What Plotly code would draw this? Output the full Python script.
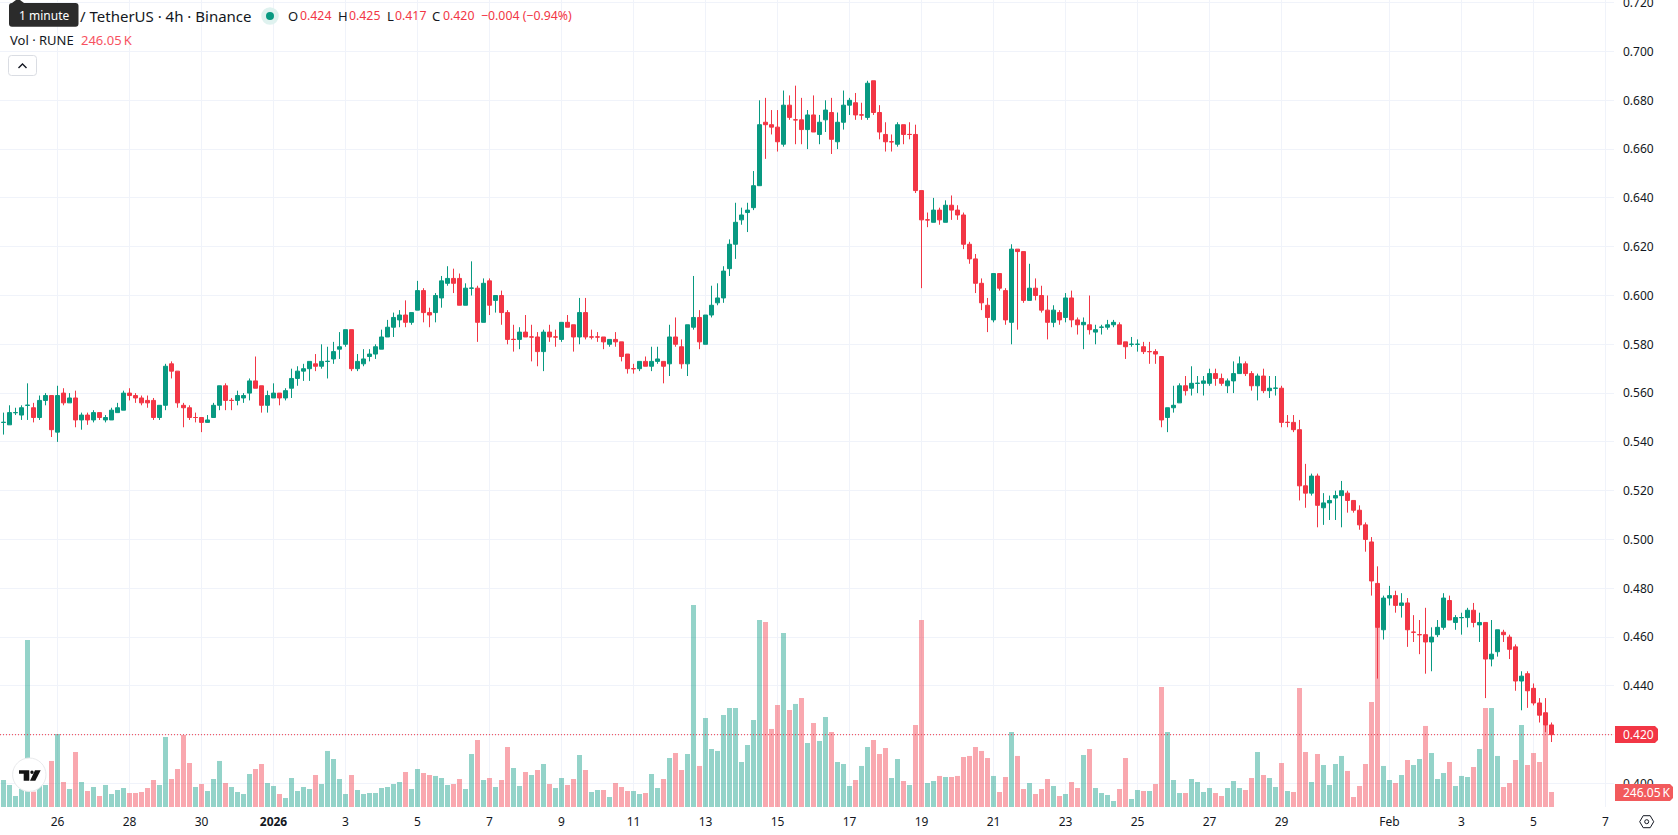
import numpy as np
import pandas as pd
import plotly.graph_objects as go

# 4h RUNE / USDT candles, prices in thousandths of a USDT
opens = [
    548, 547, 552, 551, 555, 554, 550, 557, 559, 544,
    560, 556, 558, 549, 551, 549, 552, 549, 549, 552,
    553, 560, 559, 558, 557, 557, 550, 555, 572, 569,
    555, 554, 550, 550, 548, 550, 555, 563, 557, 557,
    558, 560, 565, 563, 555, 558, 560, 558, 562, 566,
    569, 570, 572, 571, 573, 574, 578, 580, 586, 570,
    572, 575, 576, 578, 583, 587, 590, 592, 589, 594,
    602, 593, 593, 599, 605, 607, 607, 596, 603, 603,
    589, 606, 598, 600, 593, 582, 582, 585, 583, 583,
    577, 585, 583, 582, 589, 588, 583, 593, 583, 583,
    583, 580, 582, 581, 576, 570, 570, 573, 571, 573,
    573, 572, 583, 579, 572, 587, 591, 580, 592, 597,
    599, 611, 621, 631, 634, 636, 645, 671, 670, 669,
    662, 678, 672, 672, 668, 674, 666, 672, 675, 663,
    671, 678, 679, 674, 673, 688, 675, 666, 663, 662,
    670, 666, 666, 643, 631, 630, 635, 630, 637, 635,
    633, 621, 615, 605, 596, 590, 609, 602, 589, 619,
    618, 598, 603, 600, 594, 589, 593, 591, 599, 590,
    588, 588, 585, 587, 587, 588, 588, 581, 580, 580,
    579, 577, 577, 575, 550, 554, 556, 563, 562, 564,
    564, 564, 568, 566, 563, 565, 568, 572, 568, 563,
    567, 561, 562, 562, 548, 548, 545, 522, 519, 526,
    513, 515, 517, 518, 519, 516, 512, 506, 499, 482,
    463, 476, 477, 473, 474, 462, 461, 461, 458, 461,
    464, 475, 466, 468, 468, 471, 465, 466, 451, 454,
    462, 460, 456, 442, 445, 439, 433, 429, 424,
]
highs = [
    552, 555, 554, 555, 564, 556, 559, 560, 559, 563,
    562, 560, 561, 552, 552, 553, 552, 551, 554, 556,
    561, 562, 560, 559, 559, 558, 555, 572, 573, 569,
    556, 555, 552, 550, 551, 556, 563, 564, 558, 561,
    560, 566, 575, 563, 561, 564, 560, 562, 570, 571,
    572, 573, 576, 580, 579, 581, 585, 586, 586, 576,
    578, 578, 580, 586, 590, 593, 594, 598, 593, 606,
    603, 595, 601, 608, 612, 611, 609, 605, 614, 604,
    607, 607, 600, 602, 594, 588, 587, 592, 588, 585,
    586, 588, 586, 589, 592, 588, 599, 599, 586, 585,
    583, 582, 585, 581, 576, 572, 573, 575, 579, 579,
    573, 588, 591, 582, 588, 608, 594, 592, 604, 605,
    612, 623, 638, 636, 638, 651, 680, 681, 676, 676,
    684, 682, 686, 681, 676, 682, 674, 680, 681, 675,
    684, 681, 683, 679, 688, 688, 678, 671, 666, 671,
    670, 671, 670, 643, 634, 640, 636, 639, 641, 637,
    634, 622, 617, 607, 599, 609, 609, 603, 621, 619,
    618, 613, 607, 604, 600, 596, 594, 601, 602, 591,
    591, 600, 588, 588, 590, 590, 589, 581, 583, 582,
    581, 581, 578, 575, 554, 563, 564, 567, 571, 567,
    567, 570, 570, 568, 566, 573, 575, 573, 569, 568,
    570, 567, 567, 563, 551, 551, 549, 531, 527, 527,
    519, 518, 520, 524, 520, 516, 514, 507, 501, 489,
    477, 481, 479, 478, 476, 469, 467, 472, 464, 467,
    478, 477, 469, 470, 472, 474, 470, 466, 467, 463,
    463, 461, 457, 446, 446, 441, 435, 435, 425,
]
lows = [
    543, 547, 551, 549, 549, 548, 549, 555, 542, 540,
    555, 556, 546, 545, 547, 548, 549, 548, 549, 552,
    553, 557, 556, 555, 554, 549, 549, 553, 566, 554,
    546, 549, 548, 544, 548, 550, 553, 553, 553, 555,
    556, 557, 562, 552, 552, 558, 555, 557, 558, 563,
    565, 565, 569, 570, 566, 572, 574, 579, 569, 569,
    571, 573, 574, 578, 583, 583, 587, 587, 588, 594,
    589, 587, 589, 595, 604, 601, 596, 596, 600, 581,
    589, 592, 593, 588, 580, 577, 578, 583, 573, 571,
    569, 581, 579, 581, 587, 577, 580, 582, 582, 581,
    578, 579, 579, 573, 568, 568, 569, 571, 569, 572,
    564, 567, 579, 570, 567, 586, 578, 580, 591, 596,
    597, 608, 615, 629, 626, 635, 645, 656, 666, 659,
    661, 672, 662, 662, 660, 667, 662, 667, 658, 660,
    668, 674, 672, 672, 672, 674, 664, 659, 659, 661,
    662, 664, 642, 603, 628, 630, 629, 630, 631, 631,
    619, 613, 601, 594, 585, 589, 602, 588, 580, 586,
    597, 598, 598, 593, 582, 587, 588, 589, 587, 584,
    578, 584, 580, 584, 586, 587, 580, 574, 579, 577,
    576, 572, 572, 546, 544, 552, 556, 559, 559, 560,
    559, 563, 563, 563, 560, 560, 568, 567, 561, 557,
    560, 558, 559, 546, 546, 544, 516, 513, 518, 505,
    506, 508, 508, 505, 511, 511, 504, 495, 477, 443,
    459, 473, 470, 468, 456, 458, 453, 445, 446, 460,
    463, 467, 463, 461, 464, 464, 458, 435, 448, 452,
    458, 451, 438, 430, 431, 432, 425, 421, 417,
]
closes = [
    548, 552, 552, 554, 555, 550, 557, 559, 545, 559,
    556, 558, 549, 551, 549, 552, 550, 550, 553, 554,
    560, 559, 558, 556, 556, 550, 555, 571, 569, 556,
    554, 550, 550, 548, 549, 555, 563, 557, 557, 559,
    559, 565, 562, 555, 559, 560, 558, 561, 566, 569,
    570, 573, 571, 573, 573, 577, 579, 586, 570, 573,
    574, 576, 579, 583, 587, 591, 592, 589, 593, 602,
    593, 592, 600, 606, 607, 605, 596, 603, 603, 589,
    605, 596, 600, 593, 582, 582, 585, 583, 583, 577,
    585, 583, 583, 589, 587, 583, 593, 583, 583, 583,
    581, 582, 581, 575, 570, 570, 573, 571, 573, 574,
    571, 583, 580, 572, 588, 591, 581, 592, 596, 599,
    610, 621, 630, 633, 635, 645, 670, 670, 669, 663,
    678, 673, 672, 668, 674, 667, 671, 676, 664, 671,
    678, 680, 674, 674, 687, 675, 667, 663, 663, 670,
    666, 666, 643, 631, 631, 635, 631, 637, 635, 633,
    621, 615, 605, 597, 591, 609, 603, 590, 619, 618,
    598, 603, 600, 594, 589, 594, 590, 599, 590, 588,
    589, 586, 586, 587, 588, 589, 580, 579, 580, 580,
    577, 577, 576, 549, 554, 555, 563, 561, 564, 564,
    565, 568, 566, 564, 565, 568, 572, 568, 563, 567,
    561, 562, 562, 548, 548, 545, 522, 519, 526, 514,
    515, 516, 518, 520, 516, 512, 506, 500, 483, 464,
    476, 477, 473, 474, 463, 462, 461, 458, 460, 464,
    476, 467, 468, 468, 471, 466, 466, 451, 453, 463,
    461, 455, 442, 444, 438, 433, 428, 424, 420,
]
# Traded volume per candle, thousands of RUNE
volumes = [
    443, 361, 180, 295, 2739, 252, 361, 361, 755, 1197,
    410, 295, 902, 410, 262, 328, 180, 361, 213, 279,
    312, 230, 230, 246, 312, 443, 361, 1148, 459, 623,
    1181, 722, 328, 377, 262, 459, 755, 394, 328, 246,
    213, 541, 623, 705, 394, 344, 213, 148, 476, 262,
    328, 295, 525, 377, 919, 787, 459, 213, 525, 279,
    213, 230, 230, 312, 328, 377, 410, 574, 295, 623,
    558, 525, 509, 476, 361, 377, 459, 295, 869, 1099,
    443, 476, 328, 443, 984, 640, 344, 574, 525, 607,
    705, 377, 312, 476, 361, 459, 853, 607, 246, 279,
    279, 164, 394, 328, 262, 262, 213, 230, 541, 312,
    459, 804, 886, 607, 869, 3314, 673, 1460, 951, 919,
    1509, 1624, 1624, 738, 1017, 1427, 3067, 3035, 1280, 1673,
    2854, 1591, 1690, 1788, 1050, 1378, 1083, 1476, 1230, 738,
    705, 344, 443, 673, 984, 1099, 869, 968, 476, 787,
    426, 361, 1345, 3067, 394, 426, 509, 492, 492, 509,
    820, 837, 984, 919, 804, 509, 246, 492, 1230, 837,
    295, 394, 213, 295, 459, 344, 180, 213, 410, 312,
    853, 951, 312, 230, 197, 98, 295, 804, 131, 279,
    262, 262, 377, 1968, 1230, 443, 230, 230, 459, 410,
    246, 312, 230, 180, 312, 426, 312, 279, 476, 902,
    525, 476, 328, 722, 262, 246, 1952, 902, 410, 869,
    689, 361, 705, 837, 591, 164, 344, 705, 1722, 3013,
    673, 443, 394, 525, 771, 689, 787, 1329, 886, 459,
    558, 738, 344, 509, 492, 656, 951, 1624, 1624, 837,
    328, 394, 771, 1345, 689, 886, 738, 1345, 246.05,
]

first_candle = "2025-12-24 12:00"
price_ticks = [0.40, 0.42, 0.44, 0.46, 0.48, 0.50, 0.52, 0.54, 0.56, 0.58,
               0.60, 0.62, 0.64, 0.66, 0.68, 0.70, 0.72]
# 0.420 sits under the last-price tag, so its own label stays blank
price_labels = ["0.400", "", "0.440", "0.460", "0.480", "0.500", "0.520", "0.540", "0.560",
                "0.580", "0.600", "0.620", "0.640", "0.660", "0.680", "0.700", "0.720"]
date_ticks = ["2025-12-26", "2025-12-28", "2025-12-30", "2026-01-01", "2026-01-03",
              "2026-01-05", "2026-01-07", "2026-01-09", "2026-01-11", "2026-01-13",
              "2026-01-15", "2026-01-17", "2026-01-19", "2026-01-21", "2026-01-23",
              "2026-01-25", "2026-01-27", "2026-01-29", "2026-02-01", "2026-02-03",
              "2026-02-05", "2026-02-07"]
date_labels = ["26", "28", "30", "<b>2026</b>", "3", "5", "7", "9", "11", "13", "15",
               "17", "19", "21", "23", "25", "27", "29", "Feb", "3", "5", "7"]

UP = "#089981"
DOWN = "#F23645"
UP_VOL = "rgba(8,153,129,0.43)"
DOWN_VOL = "rgba(242,54,69,0.43)"
GRID = "#F0F3FA"
INK = "#131722"
FONT = "Noto Sans"

WIDTH, HEIGHT = 1678, 835
PLOT_W, PLOT_H = 1614, 807

times = pd.date_range(first_candle, periods=len(closes), freq="4h")
step = pd.Timedelta(hours=4)
px_per_candle = 6.0
x_start = times[0] - step * (3.5 / px_per_candle)
x_end = times[0] + step * ((PLOT_W - 3.5) / px_per_candle)

o, h, l, c = (np.array(a) / 1000 for a in (opens, highs, lows, closes))
vol_colors = [UP_VOL if b >= a else DOWN_VOL for a, b in zip(opens, closes)]


def fx(x):
    return x / PLOT_W


def fy(y):
    return 1 - y / PLOT_H


def path(points, close=True):
    body = " L ".join(f"{fx(x):.5f} {fy(y):.5f}" for x, y in points)
    return f"M {body}" + (" Z" if close else "")


def rounded(x0, y0, x1, y1, r):
    a, b, p, q = fx(x0), fy(y0), fx(x1), fy(y1)
    rx, ry = r / PLOT_W, r / PLOT_H
    return (f"M {a+rx:.5f} {b:.5f} L {p-rx:.5f} {b:.5f} Q {p:.5f} {b:.5f} {p:.5f} {b-ry:.5f} "
            f"L {p:.5f} {q+ry:.5f} Q {p:.5f} {q:.5f} {p-rx:.5f} {q:.5f} L {a+rx:.5f} {q:.5f} "
            f"Q {a:.5f} {q:.5f} {a:.5f} {q+ry:.5f} L {a:.5f} {b-ry:.5f} Q {a:.5f} {b:.5f} {a+rx:.5f} {b:.5f} Z")


def shape_path(d, fill="rgba(0,0,0,0)", line=None, width=0):
    return dict(type="path", xref="paper", yref="paper", path=d, fillcolor=fill,
                line=dict(color=line or "rgba(0,0,0,0)", width=width), layer="above")


def circle(cx, cy, r, fill, line=None, width=0):
    return dict(type="circle", xref="paper", yref="paper",
                x0=fx(cx - r), x1=fx(cx + r), y0=fy(cy + r), y1=fy(cy - r),
                fillcolor=fill, line=dict(color=line or "rgba(0,0,0,0)", width=width), layer="above")


def label(text, x, y, color=INK, size=13):
    return dict(text=text, xref="paper", yref="paper", x=fx(x), y=fy(y), xanchor="left",
                yanchor="middle", showarrow=False, borderpad=0,
                font=dict(family=FONT, size=size, color=color))


fig = go.Figure()
fig.add_trace(go.Bar(x=times, y=volumes, marker=dict(color=vol_colors, line_width=0),
                     yaxis="y", hoverinfo="skip", showlegend=False))
fig.add_trace(go.Candlestick(
    x=times, open=o, high=h, low=l, close=c, yaxis="y2", hoverinfo="skip", showlegend=False,
    increasing=dict(line=dict(color=UP, width=1), fillcolor=UP),
    decreasing=dict(line=dict(color=DOWN, width=1), fillcolor=DOWN),
))

shapes = [
    # last price line
    dict(type="line", xref="paper", yref="y2", x0=0, x1=1, y0=closes[-1] / 1000, y1=closes[-1] / 1000,
         line=dict(color=DOWN, width=1, dash="1px,2px"), layer="above"),
    # last price and last volume tags
    shape_path(path([(1615, 726), (1655, 726), (1658, 729), (1658, 740), (1655, 743), (1615, 743)]), DOWN),
    shape_path(path([(1615, 784), (1670, 784), (1673, 787), (1673, 798), (1670, 801), (1615, 801)]), "#F25A5C"),
    # market status dot
    circle(270, 16, 8.8, "#DFF2EF"),
    circle(270, 16, 4, UP),
    # collapse button
    shape_path(rounded(8.5, 55.5, 36.5, 75.5, 3), "#FFFFFF", "#DADDE3", 1),
    shape_path(path([(18.5, 68), (22.5, 64), (26.5, 68)], close=False), line=INK, width=1.4),
    # tooltip
    shape_path(path([(12, 3), (16, 0), (20, 0), (24, 3)]), "#2B2B2B"),
    shape_path(rounded(9, 3, 78.5, 26.7, 3), "#2B2B2B"),
    # watermark badge
    circle(29.3, 774.7, 16.7, "#FFFFFF", "#E9EAEC", 1),
    shape_path(path([(19, 770.3), (29.3, 770.3), (29.3, 780.7), (23.7, 780.7), (23.7, 773.7), (19, 773.7)]), "#131313"),
    circle(32, 772.2, 1.7, "#131313"),
    shape_path(path([(35, 770.3), (40.7, 770.3), (35.3, 780.7), (30, 780.7)]), "#131313"),
    # settings button
    shape_path(path([(1639.7, 821.7), (1643.2, 815.7), (1650.2, 815.7), (1653.7, 821.7), (1650.2, 827.7), (1643.2, 827.7)]),
               line=INK, width=1),
    circle(1646.7, 821.7, 2, "rgba(0,0,0,0)", INK, 1),
]

annotations = [
    label("/ TetherUS · 4h · Binance", 78.5, 16, size=15),
    label("1 minute", 18, 15.5, "#FFFFFF", 12),
    label("O", 286.5, 16),
    label("0.424", 299, 16, DOWN, 12.3),
    label("H", 336.5, 16),
    label("0.425", 347.5, 16, DOWN, 12.3),
    label("L", 386, 16),
    label("0.417", 393.5, 16, DOWN, 12.3),
    label("C", 431, 16),
    label("0.420", 442, 16, DOWN, 12.3),
    label("−0.004 (−0.94%)", 480, 16, DOWN, 12.3),
    label("Vol · RUNE", 9, 40.5),
    label("246.05\u2009K", 80, 40.5, "#F7525F"),
    label("0.420", 1622, 734.7, "#FFFFFF", 12),
    label("246.05\u2009K", 1622, 792.5, "#FFFFFF", 12),
]

fig.update_layout(
    width=WIDTH, height=HEIGHT, autosize=False,
    margin=dict(l=0, r=WIDTH - PLOT_W, t=0, b=HEIGHT - PLOT_H, pad=0, autoexpand=False),
    paper_bgcolor="#FFFFFF", plot_bgcolor="#FFFFFF",
    bargap=1 / 6, boxgap=1 / 3, boxgroupgap=0, hovermode=False, showlegend=False, dragmode=False,
    font=dict(family=FONT, size=12, color=INK),
    shapes=shapes, annotations=annotations,
    xaxis=dict(type="date", range=[x_start, x_end], rangeslider=dict(visible=False),
               tickmode="array", tickvals=date_ticks, ticktext=date_labels,
               showgrid=True, gridcolor=GRID, gridwidth=1, zeroline=False, showline=False,
               ticks="", ticklabelstandoff=6, tickfont=dict(family=FONT, size=12, color=INK)),
    yaxis=dict(range=[0, 16.4 * PLOT_H], visible=False, showgrid=False, zeroline=False, fixedrange=True),
    yaxis2=dict(overlaying="y", side="right", anchor="x",
                range=[0.68 - (PLOT_H - 100.3) / 2440, 0.68 + 100.3 / 2440],
                tickmode="array", tickvals=price_ticks, ticktext=price_labels,
                ticklabeloverflow="allow",
                showgrid=True, gridcolor=GRID, gridwidth=1, zeroline=False, showline=False,
                ticks="", ticklabelstandoff=8, tickfont=dict(family=FONT, size=12, color=INK)),
)

fig.write_html("out.html", config=dict(displayModeBar=False, staticPlot=True))
